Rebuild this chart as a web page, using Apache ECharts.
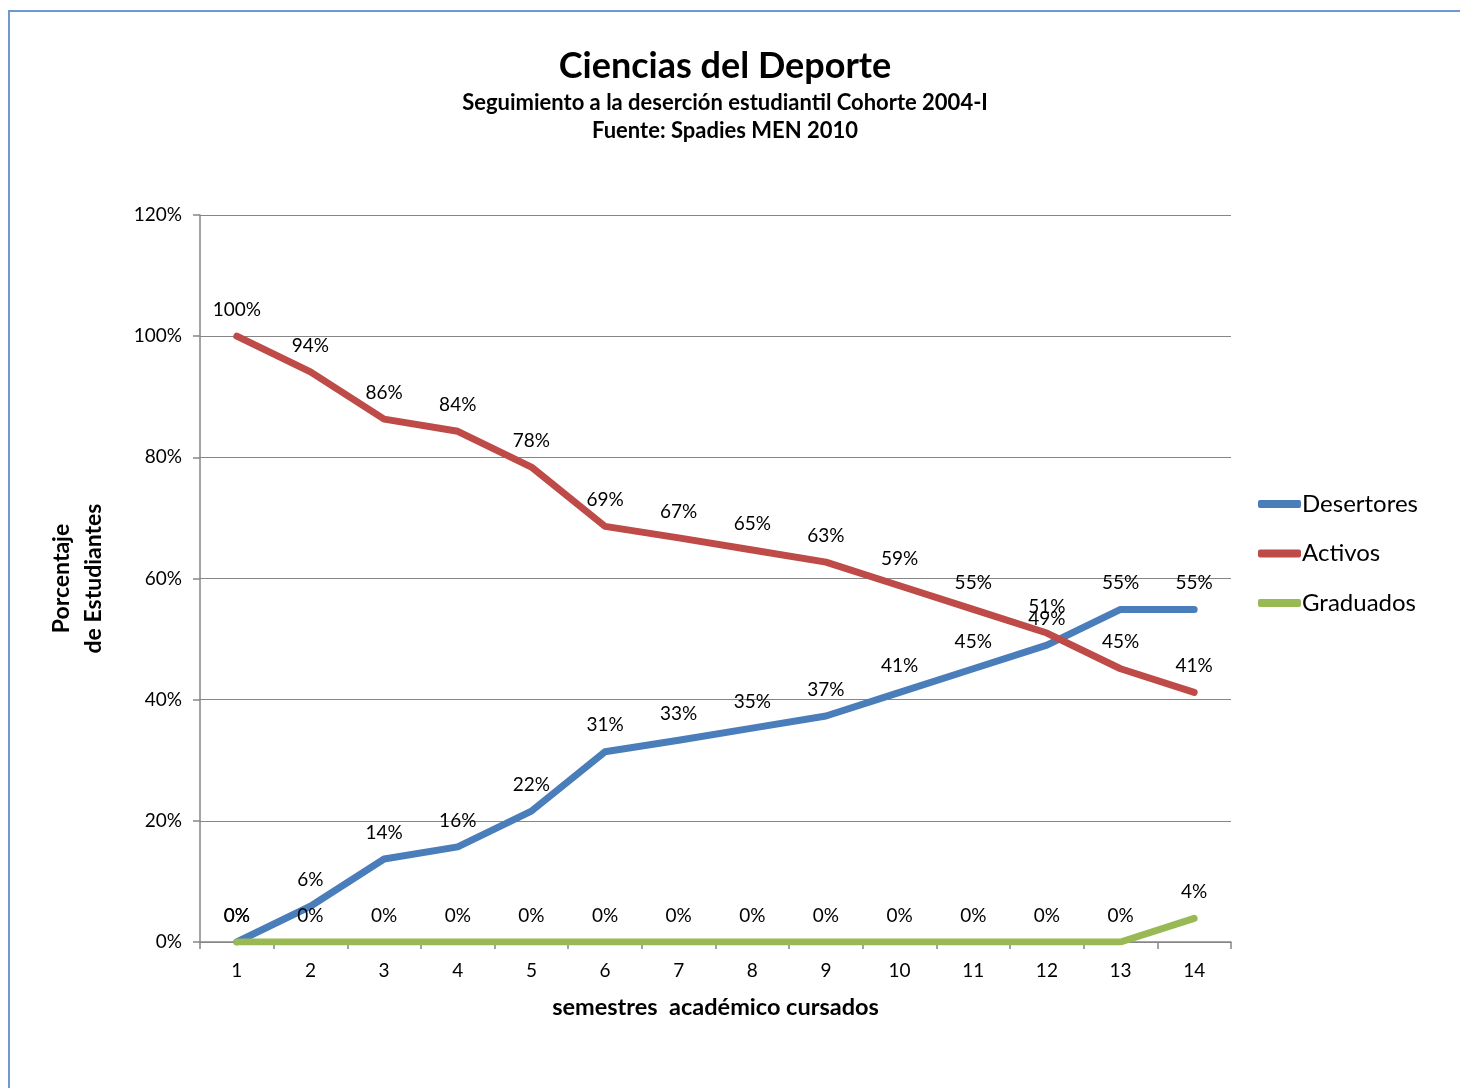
<!DOCTYPE html>
<html>
<head>
<meta charset="utf-8">
<script src="https://cdn.jsdelivr.net/npm/echarts@6/dist/echarts.min.js"></script>
<style>
html,body{margin:0;padding:0;background:#fff;}
#c{width:1460px;height:1088px;}
</style>
</head>
<body>
<div id="c"></div>
<script>
var categories = ['1','2','3','4','5','6','7','8','9','10','11','12','13','14'];
var desertores = [0, 5.9, 13.7, 15.7, 21.6, 31.4, 33.3, 35.3, 37.3, 41.2, 45.1, 49.0, 54.9, 54.9];
var activos = [100, 94.1, 86.3, 84.3, 78.4, 68.6, 66.7, 64.7, 62.7, 58.8, 54.9, 51.0, 45.1, 41.2];
var graduados = [0, 0, 0, 0, 0, 0, 0, 0, 0, 0, 0, 0, 0, 3.9];

var FONT = 'Lato, "Open Sans", sans-serif';
var chart = echarts.init(document.getElementById('c'));

function mkSeries(name, data, color) {
  return {
    name: name,
    type: 'line',
    data: data,
    symbol: 'circle',
    symbolSize: 0,
    itemStyle: {color: color},
    lineStyle: {color: color, width: 7, cap: 'round', join: 'round'},
    label: {
      show: true,
      position: 'top',
      distance: 17,
      color: '#000',
      fontSize: 19,
      fontFamily: FONT,
      formatter: function (p) { return Math.round(p.value) + '%'; }
    },
    emphasis: {disabled: true},
    animation: false
  };
}

chart.setOption({
  backgroundColor: '#fff',
  animation: false,
  title: [
    {text: 'Ciencias del Deporte', left: 720, top: 43, textAlign: 'center',
     textStyle: {fontSize: 36, fontWeight: 'bold', color: '#000', fontFamily: FONT}},
    {text: 'Seguimiento a la deserción estudiantil Cohorte 2004-I\nFuente: Spadies MEN 2010',
     left: 720, top: 84, textAlign: 'center',
     textStyle: {fontSize: 22, fontWeight: 'bold', color: '#000', fontFamily: FONT, lineHeight: 28, align: 'center'}}
  ],
  graphic: [
    {type: 'rect', shape: {x: 9, y: 11, width: 1600, height: 1200},
     style: {fill: 'none', stroke: '#6f97d0', lineWidth: 2}, silent: true}
  ],
  legend: {
    orient: 'vertical',
    left: 1253,
    top: 487,
    itemWidth: 43,
    itemHeight: 8,
    itemGap: 25.5,
    icon: 'roundRect',
    data: ['Desertores', 'Activos', 'Graduados'],
    textStyle: {fontSize: 24, color: '#000', fontFamily: FONT, padding: [0,0,0,-4]}
  },
  grid: {left: 200, right: 229, top: 215, bottom: 146, containLabel: false},
  xAxis: {
    type: 'category',
    data: categories,
    boundaryGap: true,
    name: 'semestres  académico cursados',
    nameLocation: 'middle',
    nameGap: 53,
    nameTextStyle: {fontSize: 23.5, fontWeight: 'bold', color: '#000', fontFamily: FONT},
    axisLine: {lineStyle: {color: '#868686', width: 1.5}},
    axisTick: {show: true, length: 7, inside: false, lineStyle: {color: '#868686', width: 1.5}},
    axisLabel: {fontSize: 19, color: '#000', fontFamily: FONT, margin: 19},
    splitLine: {show: false}
  },
  yAxis: {
    type: 'value',
    min: 0, max: 120, interval: 20,
    name: 'Porcentaje\nde Estudiantes',
    nameLocation: 'middle',
    nameGap: 90,
    nameRotate: 90,
    nameTextStyle: {fontSize: 23, fontWeight: 'bold', color: '#000', fontFamily: FONT, lineHeight: 32, align: 'center'},
    axisLine: {show: true, lineStyle: {color: '#868686', width: 1.5}},
    axisTick: {show: true, length: 7, inside: false, lineStyle: {color: '#868686', width: 1.5}},
    axisLabel: {fontSize: 19, color: '#000', fontFamily: FONT, margin: 18, formatter: '{value}%'},
    splitLine: {show: true, lineStyle: {color: '#868686', width: 1.2}}
  },
  series: [
    mkSeries('Desertores', desertores, '#4a7ebb'),
    mkSeries('Activos', activos, '#be4b48'),
    mkSeries('Graduados', graduados, '#98b954')
  ]
});
</script>
</body>
</html>
